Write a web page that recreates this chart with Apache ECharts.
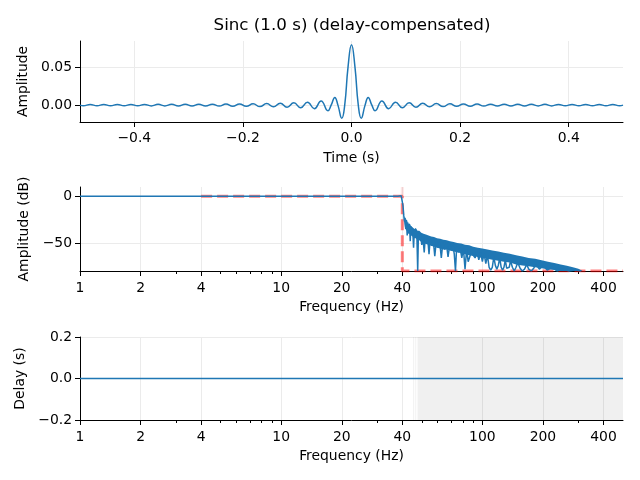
<!DOCTYPE html>
<html>
<head>
<meta charset="utf-8">
<script src="https://cdn.jsdelivr.net/npm/echarts@6/dist/echarts.min.js"></script>
<style>html,body{margin:0;padding:0;background:#fff}#c{width:640px;height:480px}</style>
</head>
<body>
<div id="c"></div>
<script>
// ---- Impulse response (top panel) ----
var tTime = [-0.5, -0.4937, -0.4812, -0.4687, -0.4562, -0.4437, -0.4312, -0.4187, -0.4062, -0.3937, -0.3812, -0.3687, -0.3562, -0.3437, -0.3312, -0.3187, -0.3062, -0.2937, -0.2812, -0.2687, -0.2562, -0.2437, -0.2312, -0.2187, -0.2062, -0.1937, -0.1812, -0.1687, -0.1562, -0.1437, -0.1312, -0.1187, -0.1062, -0.0936, -0.0811, -0.0685, -0.0560, -0.0434, -0.0375, -0.0307, -0.025, -0.0179, -0.0125, -0.0063, 0,
  0.0063, 0.0125, 0.0179, 0.025, 0.0307, 0.0375, 0.0434, 0.0560, 0.0685, 0.0811, 0.0936, 0.1062, 0.1187, 0.1312, 0.1437, 0.1562, 0.1687, 0.1812, 0.1937, 0.2062, 0.2187, 0.2312, 0.2437, 0.2562, 0.2687, 0.2812, 0.2937, 0.3062, 0.3187, 0.3312, 0.3437, 0.3562, 0.3687, 0.3812, 0.3937, 0.4062, 0.4187, 0.4312, 0.4437, 0.4562, 0.4687, 0.4812, 0.4937, 0.5];
var hAmp = [0, -0.0008, 0.0008, -0.0008, 0.0008, -0.0008, 0.0008, -0.0009, 0.0009, -0.0009, 0.0009, -0.0010, 0.0010, -0.0010, 0.0010, -0.0011, 0.0011, -0.0011, 0.0011, -0.0012, 0.0012, -0.0013, 0.0014, -0.0014, 0.0015, -0.0016, 0.0017, -0.0019, 0.0020, -0.0022, 0.0024, -0.0027, 0.0030, -0.0034, 0.0039, -0.0046, 0.0056, -0.0073, 0, 0.0102, 0, -0.0173, 0, 0.0507, 0.0796,
  0.0507, 0, -0.0173, 0, 0.0102, 0, -0.0073, 0.0056, -0.0046, 0.0039, -0.0034, 0.0030, -0.0027, 0.0024, -0.0022, 0.0020, -0.0019, 0.0017, -0.0016, 0.0015, -0.0014, 0.0014, -0.0013, 0.0012, -0.0012, 0.0011, -0.0011, 0.0011, -0.0011, 0.0010, -0.0010, 0.0010, -0.0010, 0.0009, -0.0009, 0.0009, -0.0009, 0.0008, -0.0008, 0.0008, -0.0008, 0.0008, -0.0008, 0];
var timeTicks = [-0.4, -0.2, 0, 0.2, 0.4];
var ampTicks = [0, 0.05];

// ---- Frequency response (middle panel) ----
var freqTicks = [1, 2, 4, 10, 20, 40, 100, 200, 400];
var freqMinor = [3, 5, 6, 7, 8, 9, 30, 50, 60, 70, 80, 90, 300];
var dbTicks = [-50, 0];
var idealFreq = [4, 40, 40, 500];
var idealDb = [0, 0, -80, -80];
var edgeFreq = [40, 40];
var edgeDb = [10, 0];
var respFreq = [1, 10, 30, 38, 39.5, 40.0, 40.3,
  40.7, 41.0, 41.3, 41.6, 41.9, 42.3, 42.6, 43.0, 43.4, 43.8, 44.1, 44.6, 45.0, 45.5, 45.9, 46.4, 46.9, 47.3, 47.7, 48.1, 48.7, 49.3, 50.0, 50.6, 51.4, 52.0, 52.8, 53.5, 54.3, 55.0, 56.0, 57.0, 58.0, 59.0, 60.2, 61.4, 62.5, 63.6, 65.0, 66.3, 67.5, 68.8, 70.2, 71.5, 72.5, 73.5, 74.5, 76.0, 77.5, 79.0, 80.5, 82.0, 83.5, 85.0, 86.5, 88.0,
  90, 92, 94, 96, 98, 100, 102, 104, 106, 108, 110, 112, 114, 116, 118, 120, 122, 124, 126, 128, 130, 132, 134, 136, 138, 141, 144, 147, 150, 154, 158, 162, 166, 170, 175, 180, 185, 192, 200, 210, 222, 235, 250, 270, 290, 310];
var respDb = [0, 0, 0, 0, 0.6, 0, -10,
  -21, -27, -23, -35, -25, -42, -28, -36, -30, -48, -32, -38, -34, -55, -36, -42, -38, -45, -80, -40, -46, -41, -52, -43, -60, -44, -50, -45, -62, -46, -53, -47, -64, -48, -55, -49, -66, -50, -57, -51, -65, -52, -58, -53, -62, -80, -54, -60, -55, -66, -56, -78, -57, -70, -72, -60,
  -58, -66, -59, -68, -60, -70, -61, -72, -63, -76, -79, -76, -65, -74, -78, -74, -66, -76, -79, -76, -68, -77, -79, -76, -69, -76, -80, -76, -71, -77, -80, -78, -73, -78, -80, -77, -73, -78, -74, -79, -76, -80, -78, -80, -79, -80];
var bandFreq = [40.7, 41.2, 41.7, 42.2, 42.8, 43.5, 44.2, 45, 45.8, 46.7, 47.6, 48.6, 49.7, 51, 52.4, 54, 55.7, 57.5, 59.5, 61.7, 64, 66.5, 69, 72, 75, 78.5, 82, 86, 90, 95, 100, 106, 112, 120, 128, 137, 147, 158, 170, 183, 197, 212, 228, 245, 263, 282, 300, 315];
var bandTop = [-21, -24, -27, -26, -30, -29, -32, -33, -35, -34, -37, -37, -39, -40, -41, -42, -43, -43.5, -45, -45.5, -46.5, -47, -48, -49, -50, -50.5, -52, -52.5, -54, -55, -56, -57, -58, -59, -60.5, -61.5, -63, -64.5, -66, -67, -68.5, -70, -71.5, -73, -74.5, -76, -77.5, -80];
var bandBot = [-25, -33, -36, -37, -40, -40, -42, -43, -45, -45, -47, -47, -49, -50, -51, -52, -53, -54, -55, -56, -57, -57, -58, -59, -60, -61, -62, -63, -64, -65, -66, -67, -68, -69, -70, -71, -73, -74, -75, -76, -77, -78, -79, -80, -80, -80, -80, -80];

// ---- Group delay (bottom panel) ----
var delayFreq = [1, 500];
var delayVal = [0, 0];
var delayTicks = [-0.2, 0, 0.2];
var shadeStart = [45.3, 46.4, 47.6];
var shadeEnd = [45.8, 46.9, 500];

var FONT = 'DejaVu Sans';
var BLUE = '#1f77b4';
function minus(s) { return String(s).replace('-', '\u2212'); }
function pairs(a, b) { return a.map(function (v, i) { return [v, b[i]]; }); }

var gridLine = { show: true, lineStyle: { color: '#ebebeb', width: 1 } };
var axLine = { show: true, onZero: false, lineStyle: { color: '#000', width: 1 } };
var labStyle = { color: '#000', fontFamily: FONT, fontSize: 13.9 };
var nameStyle = { color: '#000', fontFamily: FONT, fontSize: 13.9 };

function logX(gi) {
  return {
    type: 'log', gridIndex: gi, min: 1, max: 500, logBase: 10,
    axisLine: axLine,
    axisTick: { show: true, length: 5, customValues: freqTicks, lineStyle: { color: '#000', width: 1 } },
    axisLabel: Object.assign({ customValues: freqTicks, margin: 10, formatter: function (v) { return String(Math.round(v)); } }, labStyle),
    splitLine: gridLine,
    name: 'Frequency (Hz)', nameLocation: 'middle', nameGap: 29, nameTextStyle: nameStyle
  };
}
function minorX(gi) {
  return {
    type: 'log', gridIndex: gi, min: 1, max: 500, logBase: 10, position: 'bottom',
    axisLine: { show: false, onZero: false },
    axisTick: { show: true, length: 3, customValues: freqMinor, lineStyle: { color: '#000', width: 1 } },
    axisLabel: { show: false },
    splitLine: { show: false }
  };
}

var option = {
  animation: false,
  backgroundColor: '#fff',
  title: {
    text: 'Sinc (1.0 s) (delay-compensated)',
    left: 347, top: 12, textAlign: 'center',
    textStyle: { color: '#000', fontFamily: FONT, fontSize: 16.7, fontWeight: 'normal' }
  },
  grid: [
    { left: 80, top: 41, width: 543, height: 81 },
    { left: 80, top: 187, width: 543, height: 84 },
    { left: 80, top: 337, width: 543, height: 83 }
  ],
  xAxis: [
    {
      type: 'value', gridIndex: 0, min: -0.5, max: 0.5,
      axisLine: axLine,
      axisTick: { show: true, length: 5, customValues: timeTicks, lineStyle: { color: '#000', width: 1 } },
      axisLabel: Object.assign({ customValues: timeTicks, margin: 9, formatter: function (v) { return minus(v.toFixed(1)); } }, labStyle),
      splitLine: gridLine,
      name: 'Time (s)', nameLocation: 'middle', nameGap: 29, nameTextStyle: nameStyle
    },
    logX(1), minorX(1), logX(2), minorX(2)
  ],
  yAxis: [
    {
      type: 'value', gridIndex: 0, min: -0.0222, max: 0.0844,
      axisLine: axLine,
      axisTick: { show: true, length: 5, customValues: ampTicks, lineStyle: { color: '#000', width: 1 } },
      axisLabel: Object.assign({ customValues: ampTicks, margin: 8, formatter: function (v) { return minus(v.toFixed(2)); } }, labStyle),
      splitLine: gridLine,
      name: 'Amplitude', nameLocation: 'middle', nameGap: 42, nameTextStyle: nameStyle
    },
    {
      type: 'value', gridIndex: 1, min: -80, max: 10,
      axisLine: axLine,
      axisTick: { show: true, length: 5, customValues: dbTicks, lineStyle: { color: '#000', width: 1 } },
      axisLabel: Object.assign({ customValues: dbTicks, margin: 8, formatter: function (v) { return minus(String(Math.round(v))); } }, labStyle),
      splitLine: gridLine,
      name: 'Amplitude (dB)', nameLocation: 'middle', nameGap: 42, nameTextStyle: nameStyle
    },
    {
      type: 'value', gridIndex: 2, min: -0.2, max: 0.2, interval: 0.2,
      axisLine: axLine,
      axisTick: { show: true, length: 5, lineStyle: { color: '#000', width: 1 } },
      axisLabel: Object.assign({ margin: 8, formatter: function (v) { return minus(v.toFixed(1)); } }, labStyle),
      splitLine: gridLine,
      name: 'Delay (s)', nameLocation: 'middle', nameGap: 48, nameTextStyle: nameStyle
    }
  ],
  series: [
    {
      type: 'line', xAxisIndex: 0, yAxisIndex: 0, data: pairs(tTime, hAmp),
      smooth: 0.5, showSymbol: false, lineStyle: { color: BLUE, width: 1.5 }, z: 3
    },
    {
      type: 'line', xAxisIndex: 1, yAxisIndex: 1, data: pairs(idealFreq, idealDb),
      showSymbol: false, lineStyle: { color: 'rgba(255,0,0,0.5)', width: 3, type: [11, 5] }, z: 2
    },
    {
      type: 'line', xAxisIndex: 1, yAxisIndex: 1, data: pairs(edgeFreq, edgeDb),
      showSymbol: false, lineStyle: { color: 'rgba(255,0,0,0.1)', width: 3 }, z: 2
    },
    {
      type: 'custom', xAxisIndex: 1, yAxisIndex: 1,
      data: [[bandFreq[0], bandTop[0]]],
      encode: { x: 0, y: 1 },
      renderItem: function (params, api) {
        var pts = [], i;
        for (i = 0; i < bandFreq.length; i++) pts.push(api.coord([bandFreq[i], bandTop[i]]));
        for (i = bandFreq.length - 1; i >= 0; i--) pts.push(api.coord([bandFreq[i], bandBot[i]]));
        return { type: 'polygon', shape: { points: pts }, style: { fill: BLUE } };
      },
      z: 3
    },
    {
      type: 'line', xAxisIndex: 1, yAxisIndex: 1, data: pairs(respFreq, respDb),
      showSymbol: false, lineStyle: { color: BLUE, width: 1.5 }, z: 3
    },
    {
      type: 'line', xAxisIndex: 3, yAxisIndex: 2, data: pairs(delayFreq, delayVal),
      showSymbol: false, lineStyle: { color: BLUE, width: 1.5 }, z: 3,
      markArea: {
        silent: true,
        itemStyle: { color: 'rgba(0,0,0,0.06)' },
        data: shadeStart.map(function (s, i) { return [{ xAxis: s }, { xAxis: shadeEnd[i] }]; })
      }
    }
  ]
};
var chart = echarts.init(document.getElementById('c'), null, { renderer: 'canvas' });
chart.setOption(option);
</script>
</body>
</html>
